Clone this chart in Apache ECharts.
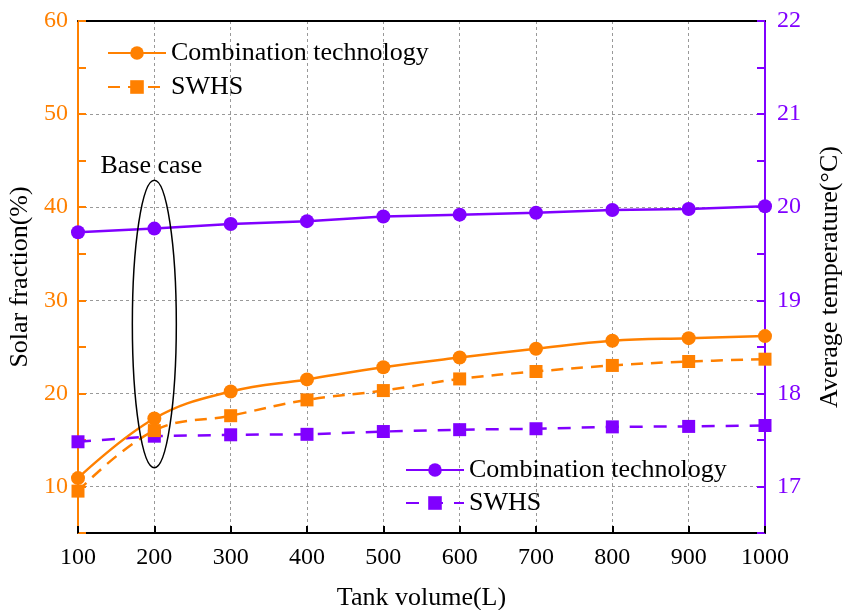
<!DOCTYPE html>
<html><head><meta charset="utf-8">
<script src="https://cdn.jsdelivr.net/npm/echarts@6/dist/echarts.min.js"></script>
<style>html,body{margin:0;padding:0;background:#fff}#c{width:844px;height:610px}</style>
</head><body><div id="c"></div>
<script>
const volumes = [100,200,300,400,500,600,700,800,900,1000];
const sfCombination = [10.9,17.3,20.2,21.5,22.8,23.85,24.8,25.65,25.93,26.15];
const sfSWHS = [9.5,16.0,17.6,19.3,20.3,21.55,22.35,23.0,23.42,23.67];
const tempCombination = [19.73,19.77,19.82,19.85,19.90,19.92,19.94,19.97,19.98,20.01];
const tempSWHS = [17.48,17.54,17.555,17.56,17.59,17.61,17.62,17.64,17.645,17.655];
const baseCase = {x:200, yTop:42.9, yBottom:12.0, halfWidth:28.8, label:'Base case'};

const ORANGE = '#FF8000', PURPLE = '#8000FF';
const FONT = 'Liberation Serif, Times New Roman, serif';
const pair = a => volumes.map((v,i)=>[v,a[i]]);

const chart = echarts.init(document.getElementById('c'), null, {renderer:'canvas'});
chart.setOption({
  animation:false,
  backgroundColor:'#fff',
  textStyle:{fontFamily:FONT},
  grid:{left:78,right:79,top:21,bottom:77,containLabel:false,outerBoundsMode:'none'},
  legend:[
    {data:['Combination technology','SWHS'], left:102, top:35, orient:'vertical',
     itemWidth:58, itemHeight:17, itemGap:8,
     textStyle:{fontFamily:FONT,fontSize:26,color:'#000',lineHeight:26}},
    {data:['Combination technology ','SWHS '], left:400, top:452, orient:'vertical',
     itemWidth:58, itemHeight:17, itemGap:7,
     textStyle:{fontFamily:FONT,fontSize:26,color:'#000',lineHeight:26}}
  ],
  xAxis:[
    {type:'value', min:100, max:1000, interval:100, position:'bottom',
     name:'Tank volume(L)', nameLocation:'middle', nameGap:52,
     nameTextStyle:{fontFamily:FONT,fontSize:26,color:'#000'},
     axisLine:{lineStyle:{color:'#000',width:2}},
     axisTick:{inside:true,length:7,lineStyle:{color:'#000',width:2}},
     axisLabel:{fontFamily:FONT,fontSize:24,color:'#000',margin:13,formatter:v=>String(v)},
     splitLine:{show:true,lineStyle:{color:'#999',type:[3,3],width:1}}},
    {type:'value', min:100, max:1000, interval:100, position:'top',
     axisLine:{show:true,lineStyle:{color:'#000',width:2}},
     axisTick:{show:false}, axisLabel:{show:false}, splitLine:{show:false}}
  ],
  yAxis:[
    {type:'value', min:5, max:60, position:'left',
     name:'Solar fraction(%)', nameLocation:'middle', nameGap:40,
     nameTextStyle:{fontFamily:FONT,fontSize:26,color:'#000'},
     axisLine:{show:true,lineStyle:{color:ORANGE,width:2}},
     axisTick:{show:true,inside:true,length:8,lineStyle:{color:ORANGE,width:2}},
     minorTick:{show:true,splitNumber:2,length:8,lineStyle:{color:ORANGE,width:2}},
     axisLabel:{fontFamily:FONT,fontSize:24,color:ORANGE,margin:10,showMinLabel:false},
     splitLine:{show:true,lineStyle:{color:'#999',type:[3,3],width:1}}},
    {type:'value', min:16.5, max:22, position:'right',
     name:'Average temperature(°C)', nameLocation:'middle', nameGap:52,
     nameTextStyle:{fontFamily:FONT,fontSize:26,color:'#000'},
     axisLine:{show:true,lineStyle:{color:PURPLE,width:2}},
     axisTick:{show:true,inside:true,length:8,lineStyle:{color:PURPLE,width:2}},
     minorTick:{show:true,splitNumber:2,length:8,lineStyle:{color:PURPLE,width:2}},
     axisLabel:{fontFamily:FONT,fontSize:24,color:PURPLE,margin:12,showMinLabel:false},
     splitLine:{show:false}}
  ],
  series:[
    {name:'Combination technology', type:'line', yAxisIndex:0, data:pair(sfCombination), smooth:0.4,
     symbol:'circle', symbolSize:14, color:ORANGE, lineStyle:{width:2.5,color:ORANGE}, z:4},
    {name:'SWHS', type:'line', yAxisIndex:0, data:pair(sfSWHS), smooth:0.4,
     symbol:'rect', symbolSize:13, color:ORANGE, lineStyle:{width:2.5,type:[12,8],color:ORANGE}, z:4},
    {name:'Combination technology ', type:'line', yAxisIndex:1, data:pair(tempCombination),
     symbol:'circle', symbolSize:14, color:PURPLE, lineStyle:{width:2.5,color:PURPLE}, z:3},
    {name:'SWHS ', type:'line', yAxisIndex:1, data:pair(tempSWHS),
     symbol:'rect', symbolSize:13, color:PURPLE, lineStyle:{width:2.5,type:[13,11],color:PURPLE}, z:3},
    {type:'custom', yAxisIndex:0, z:6, silent:true,
     data:[[baseCase.x,(baseCase.yTop+baseCase.yBottom)/2]],
     renderItem:function(params, api){
       const c = api.coord([api.value(0), api.value(1)]);
       const rx = api.size([baseCase.halfWidth,0])[0];
       const ry = api.size([0,(baseCase.yTop-baseCase.yBottom)/2])[1];
       return {type:'group', children:[
         {type:'ellipse', shape:{cx:c[0],cy:c[1],rx:rx,ry:ry},
          style:{fill:'none',stroke:'#000',lineWidth:1.5}},
         {type:'text', x:c[0]-3, y:c[1]-ry-14,
          style:{text:baseCase.label,fontFamily:FONT,fontSize:26,fill:'#000',align:'center',verticalAlign:'middle'}}
       ]};
     }}
  ]
});
</script></body></html>
